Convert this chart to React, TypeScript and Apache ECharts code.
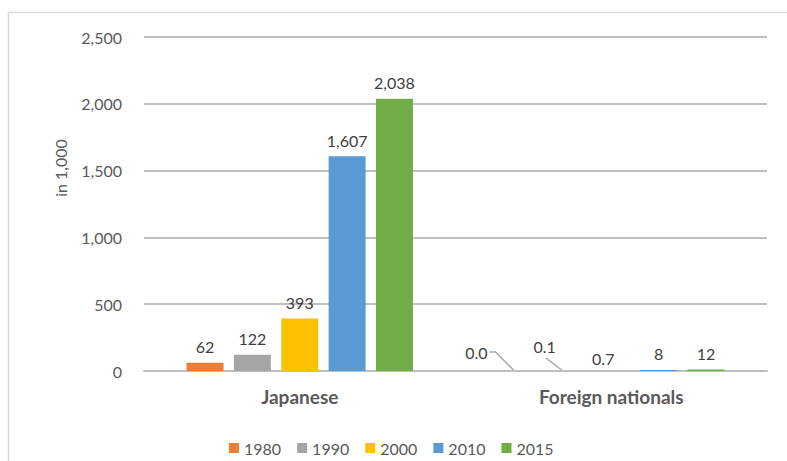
import React, { useEffect, useRef } from "react";
import * as echarts from "echarts";

const categories = ["Japanese", "Foreign nationals"];
const years = ["1980", "1990", "2000", "2010", "2015"];
const colors = ["#ED7D31", "#A5A5A5", "#FFC000", "#5B9BD5", "#70AD47"];
// values in 1,000, one array per year: [Japanese, Foreign nationals]
const v1980 = [62, 0.0];
const v1990 = [122, 0.1];
const v2000 = [393, 0.7];
const v2010 = [1607, 8];
const v2015 = [2038, 12];
const yearValues = [v1980, v1990, v2000, v2010, v2015];
const yTicks = { min: 0, max: 2500, interval: 500 };

const FONT = "Lato, 'Liberation Sans', sans-serif";
const BAR_W = 37;
const BAR_GAP = 0.28;
const LABEL_COLOR = "#404040";
const LABEL_SIZE = 16;

const fmt = (v: number) =>
  v < 1 ? v.toFixed(1) : Math.round(v).toLocaleString("en-US");

// Labels of near-zero bars drawn beside the bar with a leader line.
// Offsets are relative to the bar's top centre: label right edge / middle,
// then the leader line's points.
const leaders: Record<string, { tx: number; ty: number; align: string; pts: number[][] }> = {
  "0-1": { tx: -29, ty: -19, align: "right", pts: [[-27, -19], [-21, -19], [-2, 0]] },
  "1-1": { tx: -8, ty: -24, align: "right", pts: [[-18, -13], [-1, 0]] },
};
// small nudge for a crowded label
const labelShift: Record<string, [number, number]> = {
  "2-1": [-8, 4],
};

export default function App() {
  const ref = useRef<HTMLDivElement>(null);

  useEffect(() => {
    if (!ref.current) return;
    const chart = echarts.init(ref.current, null, { renderer: "svg" });
    const baseGraphics: any[] = [
      {
        id: "frame",
        type: "rect",
        shape: { x: 8.5, y: 12.5, width: 900, height: 600 },
        style: { fill: "none", stroke: "#D9D9D9", lineWidth: 1.5 },
        silent: true,
      },
      {
        id: "yname",
        type: "text",
        x: 60,
        y: 168,
        rotation: Math.PI / 2,
        style: {
          text: "in 1,000",
          fill: "#595959",
          font: `16px ${FONT}`,
          align: "center",
          verticalAlign: "middle",
        },
      },
    ];
    chart.setOption({
      animation: false,
      backgroundColor: "#ffffff",
      textStyle: { fontFamily: FONT },
      graphic: baseGraphics,
      grid: { left: 144, right: 20, top: 37, bottom: 90 },
      legend: {
        left: 224,
        top: 435,
        itemWidth: 10,
        itemHeight: 10,
        itemGap: 16,
        icon: "rect",
        textStyle: { color: "#595959", fontSize: 16, fontFamily: FONT },
        data: years,
      },
      xAxis: {
        type: "category",
        data: categories,
        axisTick: { show: false },
        axisLine: { lineStyle: { color: "#BFBFBF", width: 2 } },
        axisLabel: {
          color: "#595959",
          fontSize: 19,
          fontWeight: "bold",
          margin: 16,
          fontFamily: FONT,
        },
      },
      yAxis: {
        type: "value",
        min: yTicks.min,
        max: yTicks.max,
        interval: yTicks.interval,
        axisLine: { show: false },
        axisTick: { show: false },
        splitLine: { lineStyle: { color: "#BFBFBF", width: 2 } },
        axisLabel: {
          color: "#595959",
          fontSize: 16,
          margin: 22,
          fontFamily: FONT,
          formatter: (v: number) => v.toLocaleString("en-US"),
        },
      },
      series: years.map((y, si) => ({
        name: y,
        type: "bar",
        barWidth: BAR_W,
        barGap: `${BAR_GAP * 100}%`,
        itemStyle: { color: colors[si] },
        label: {
          show: true,
          position: "top",
          distance: 8,
          color: LABEL_COLOR,
          fontSize: LABEL_SIZE,
          fontFamily: FONT,
          formatter: (p: any) => fmt(p.value),
        },
        labelLayout: (p: any) => {
          const s = labelShift[`${si}-${p.dataIndex}`];
          return s ? { dx: s[0], dy: s[1] } : {};
        },
        data: yearValues[si].map((v, ci) =>
          leaders[`${si}-${ci}`] ? { value: v, label: { show: false } } : v
        ),
      })),
    });

    // leader-lined labels, anchored on the bars' pixel positions
    const extra: any[] = [];
    const step = BAR_W * (1 + BAR_GAP);
    Object.keys(leaders).forEach((key) => {
      const [si, ci] = key.split("-").map(Number);
      const cfg = leaders[key];
      const value = yearValues[si][ci];
      const cx =
        (chart.convertToPixel({ xAxisIndex: 0 }, categories[ci]) as number) +
        (si - (years.length - 1) / 2) * step;
      const top = chart.convertToPixel({ yAxisIndex: 0 }, value) as number;
      extra.push({
        id: `lead-line-${key}`,
        type: "polyline",
        shape: { points: cfg.pts.map(([x, y]) => [cx + x, top + y]) },
        style: { stroke: "#A6A6A6", lineWidth: 1.5, fill: "none" },
        silent: true,
      });
      extra.push({
        id: `lead-text-${key}`,
        type: "text",
        x: cx + cfg.tx,
        y: top + cfg.ty,
        style: {
          text: fmt(value),
          fill: LABEL_COLOR,
          font: `${LABEL_SIZE}px ${FONT}`,
          align: cfg.align,
          verticalAlign: "middle",
        },
      });
    });
    chart.setOption({ graphic: [...baseGraphics, ...extra] });

    return () => chart.dispose();
  }, []);

  return (
    <div
      ref={ref}
      style={{ position: "fixed", left: 0, top: 0, width: 787, height: 461 }}
    />
  );
}
